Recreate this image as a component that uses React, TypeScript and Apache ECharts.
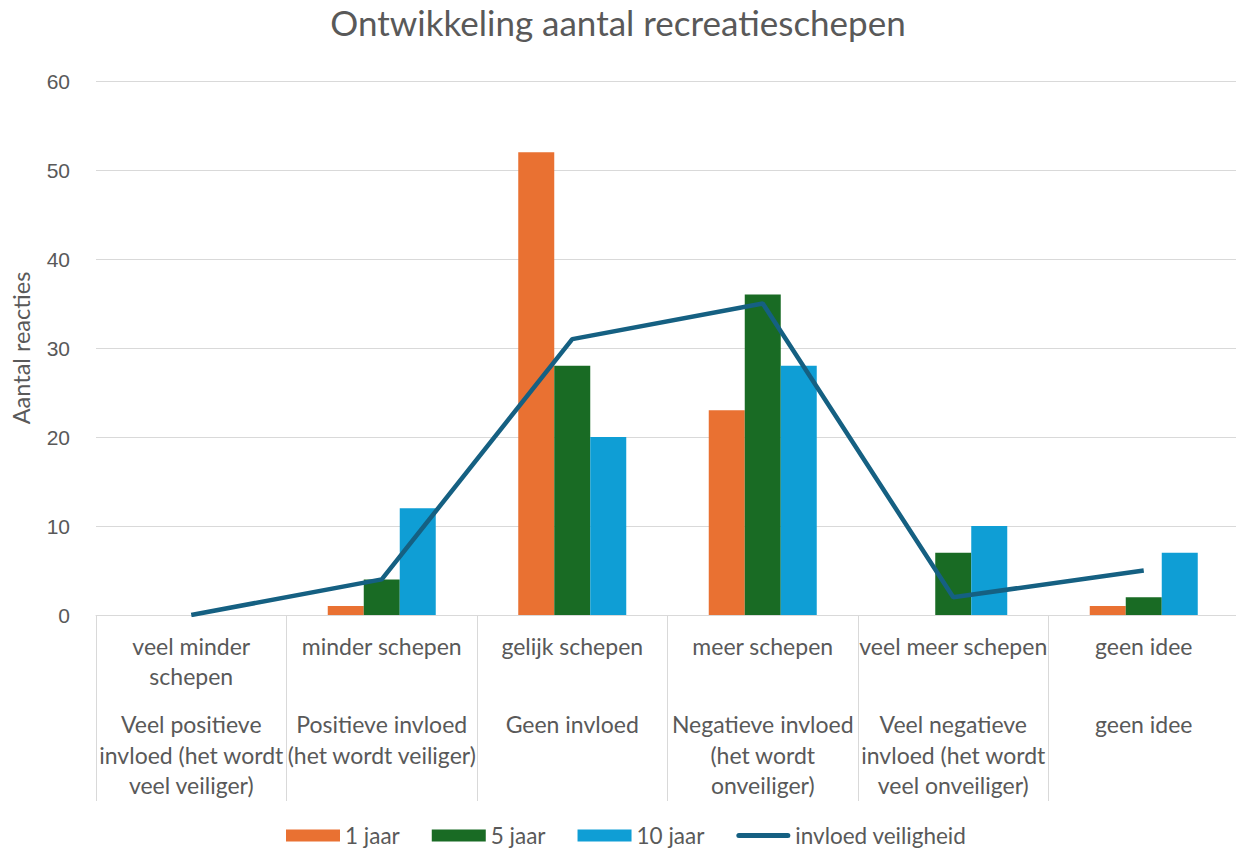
import React, { useEffect, useRef } from "react";
import * as echarts from "echarts";

// Category labels (two levels: fleet development, and the effect on safety)
const shipLabels = [
  "veel minder\nschepen",
  "minder schepen",
  "gelijk schepen",
  "meer schepen",
  "veel meer schepen",
  "geen idee",
];
const safetyLabels = [
  "Veel positieve\ninvloed (het wordt\nveel veiliger)",
  "Positieve invloed\n(het wordt veiliger)",
  "Geen invloed",
  "Negatieve invloed\n(het wordt\nonveiliger)",
  "Veel negatieve\ninvloed (het wordt\nveel onveiliger)",
  "geen idee",
];

// Number of responses per horizon
const oneYear = [0, 1, 52, 23, 0, 1];
const fiveYears = [0, 4, 28, 36, 7, 2];
const tenYears = [0, 12, 20, 28, 10, 7];
const safetyImpact = [0, 4, 31, 35, 2, 5];

const yTicks = { min: 0, max: 60, interval: 10 };

const TEXT = "#595959";
const GRID = "#d9d9d9";
const FONT = "Lato, 'Noto Sans', sans-serif";

// Thick rounded bar used as the legend icon of the line series
const LINE_ICON =
  "path://M2.5,0L51.5,0A2.5,2.5 0 0 1 51.5,5L2.5,5A2.5,2.5 0 0 1 2.5,0Z";

export default function App() {
  const ref = useRef<HTMLDivElement>(null);

  useEffect(() => {
    if (!ref.current) return;
    const chart = echarts.init(ref.current, undefined, { renderer: "svg" });
    chart.setOption({
      animation: false,
      backgroundColor: "#ffffff",
      textStyle: { fontFamily: FONT, color: TEXT },
      title: {
        text: "Ontwikkeling aantal recreatieschepen",
        left: "center",
        top: -1,
        textStyle: {
          fontFamily: FONT,
          fontSize: 35,
          fontWeight: "normal",
          color: TEXT,
        },
      },
      legend: {
        top: 824,
        left: 286,
        padding: 0,
        itemWidth: 54,
        itemHeight: 12,
        itemGap: 32,
        textStyle: { fontFamily: FONT, fontSize: 22.5, color: TEXT },
        data: [
          { name: "1 jaar", icon: "rect" },
          { name: "5 jaar", icon: "rect" },
          { name: "10 jaar", icon: "rect" },
          {
            name: "invloed veiligheid",
            icon: LINE_ICON,
            itemStyle: { color: "#156082" },
          },
        ],
      },
      grid: {
        left: 96,
        top: 81,
        width: 1143,
        bottom: 237,
        containLabel: false,
        outerBoundsMode: "none",
      },
      xAxis: [
        {
          type: "category",
          data: shipLabels,
          position: "bottom",
          boundaryGap: true,
          axisLine: { show: true, lineStyle: { color: GRID, width: 1 } },
          axisTick: {
            show: true,
            interval: 0,
            length: 186,
            lineStyle: { color: GRID, width: 1 },
          },
          axisLabel: {
            interval: 0,
            margin: 16,
            fontFamily: FONT,
            fontSize: 23,
            lineHeight: 30,
            color: TEXT,
            verticalAlign: "top",
          },
        },
        {
          type: "category",
          data: safetyLabels,
          position: "bottom",
          boundaryGap: true,
          axisLine: { show: false },
          axisTick: { show: false },
          axisLabel: {
            interval: 0,
            margin: 94,
            fontFamily: FONT,
            fontSize: 23,
            lineHeight: 30.5,
            color: TEXT,
            verticalAlign: "top",
          },
        },
      ],
      yAxis: {
        type: "value",
        min: yTicks.min,
        max: yTicks.max,
        interval: yTicks.interval,
        name: "Aantal reacties",
        nameLocation: "middle",
        nameGap: 63,
        nameTextStyle: { fontFamily: FONT, fontSize: 23.5, color: TEXT },
        axisLine: { show: false },
        axisTick: { show: false },
        axisLabel: {
          margin: 26,
          fontFamily: "'Liberation Sans', Arial, sans-serif",
          fontSize: 21,
          color: TEXT,
        },
        splitLine: { lineStyle: { color: GRID, width: 1 } },
      },
      series: [
        {
          name: "1 jaar",
          type: "bar",
          data: oneYear,
          barWidth: 36,
          barGap: "0%",
          itemStyle: { color: "#E97132" },
        },
        {
          name: "5 jaar",
          type: "bar",
          data: fiveYears,
          barWidth: 36,
          barGap: "0%",
          itemStyle: { color: "#196B24" },
        },
        {
          name: "10 jaar",
          type: "bar",
          data: tenYears,
          barWidth: 36,
          barGap: "0%",
          itemStyle: { color: "#0F9ED5" },
        },
        {
          name: "invloed veiligheid",
          type: "line",
          data: safetyImpact,
          symbol: "none",
          lineStyle: { color: "#156082", width: 4.5 },
          itemStyle: { color: "#156082" },
        },
      ],
    });
    return () => chart.dispose();
  }, []);

  return (
    <div
      ref={ref}
      style={{ position: "fixed", left: 0, top: 0, width: 1236, height: 852 }}
    />
  );
}
